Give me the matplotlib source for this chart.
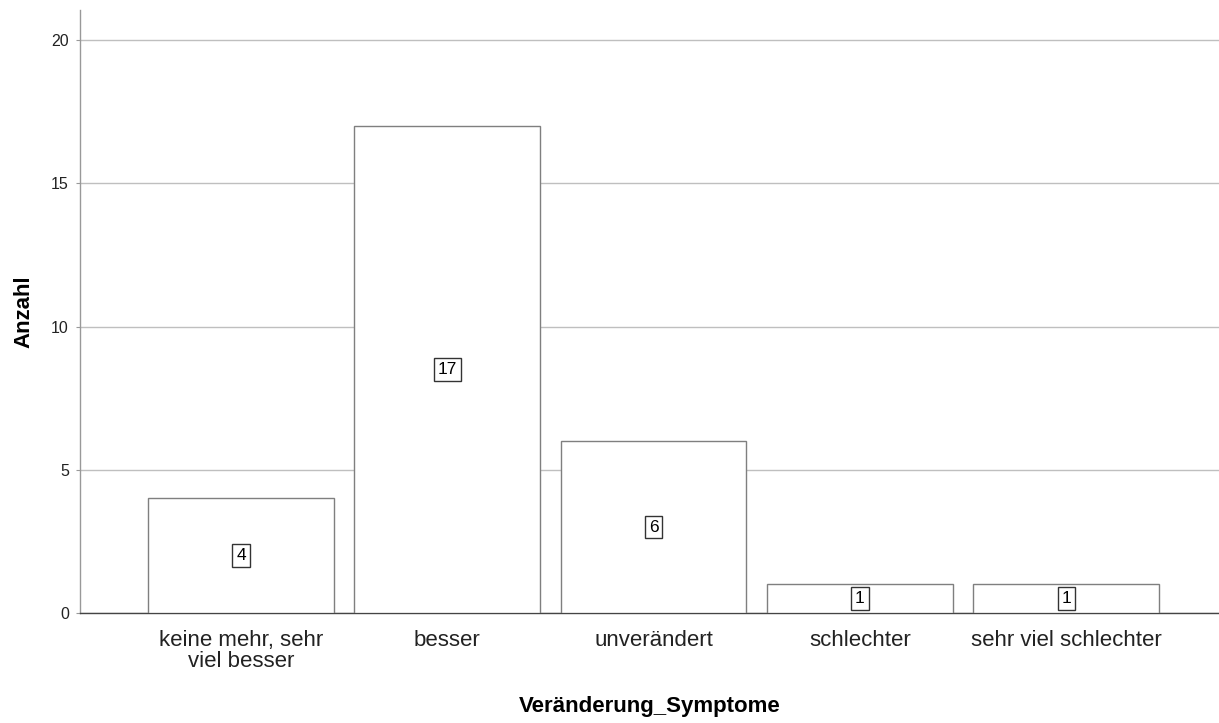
import matplotlib
matplotlib.use("Agg")
import matplotlib.pyplot as plt

categories = ["keine mehr, sehr\nviel besser", "besser", "unverändert", "schlechter", "sehr viel schlechter"]
counts = [4, 17, 6, 1, 1]
yticks = [0, 5, 10, 15, 20]

plt.rcParams['font.family'] = ['Liberation Sans', 'DejaVu Sans']

fig = plt.figure(figsize=(12.19, 7.23), dpi=100)
ax = fig.add_axes([80/1219, 1 - 613/723, 1 - 80/1219, (613 - 10)/723])

x = list(range(len(categories)))
ax.bar(x, counts, width=0.9, color="white", edgecolor="#7f7f7f", linewidth=1.0, zorder=3)

for xi, c in zip(x, counts):
    ax.text(xi, c / 2, str(c), ha="center", va="center", fontsize=12.5, zorder=4,
            bbox=dict(boxstyle="square,pad=0.22", facecolor="white", edgecolor="#333333", linewidth=1.0))

ax.set_xlim(-0.78, 4.74)
ax.set_ylim(0, 21.05)
ax.set_yticks(yticks)
ax.set_yticklabels([str(t) for t in yticks], fontsize=11.5, color="#222222")
ax.set_xticks(x)
ax.set_xticklabels(categories, fontsize=16, color="#222222", linespacing=1.05)
ax.tick_params(axis="x", length=0, pad=12)
ax.tick_params(axis="y", length=3, color="#999999", pad=5)

ax.yaxis.grid(True, color="#bfbfbf", linewidth=1.0, zorder=0)
ax.set_axisbelow(True)

for s in ["top", "right"]:
    ax.spines[s].set_visible(False)
ax.spines["left"].set_color("#999999")
ax.spines["left"].set_linewidth(1.0)
ax.spines["bottom"].set_color("#444444")
ax.spines["bottom"].set_linewidth(1.0)

ax.set_ylabel("Anzahl", fontsize=16, fontweight="bold", labelpad=12)
ax.set_xlabel("Veränderung_Symptome", fontsize=16, fontweight="bold", labelpad=17)

fig.savefig("out.png", dpi=100, facecolor="white")
